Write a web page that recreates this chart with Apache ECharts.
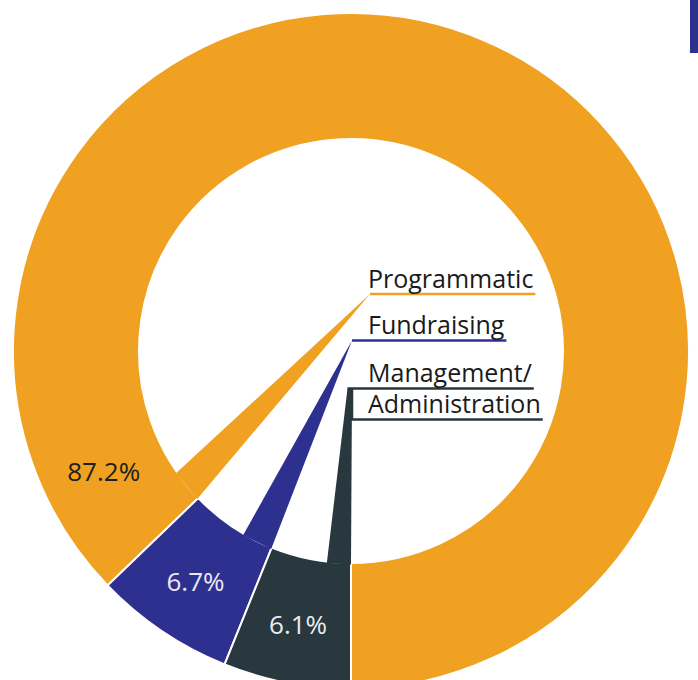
<!DOCTYPE html>
<html>
<head>
<meta charset="utf-8">
<script src="https://cdn.jsdelivr.net/npm/echarts@6/dist/echarts.min.js"></script>
<style>
html, body { margin: 0; padding: 0; background: #fff; }
#main { width: 698px; height: 680px; }
</style>
</head>
<body>
<div id="main"></div>
<script>
// share of total expenses, %
var categories = ['Programmatic', 'Fundraising', 'Management/\nAdministration'];
var shares = [87.2, 6.7, 6.1];

var sliceColors = ['#F1A121', '#2E3090', '#29373E'];
var pctColors = ['#1e1e1e', '#E9E9F3', '#E9EDEF'];

// ring geometry (px)
var CX = 351, CY = 351, R0 = 212, R1 = 338, START = 270;
// part of each slice's inner edge the leader wedge grows out of (deg)
var wedgeSpread = [9, 8.4, 6.5];
// x of the wedge tip (left, right)
var wedgeTips = [[370, 370], [352, 352], [347.5, 352]];
var textX = 368;
var textBase = [[290], [336.5], [384.5, 415.5]];
var FONT_FAMILY = '"Open Sans", sans-serif';
var NAME_SIZE = 25;
var PCT_SIZE = 26;

var total = shares.reduce(function (a, b) { return a + b; }, 0);
var ends = [];
var acc = START;
shares.forEach(function (v) { acc += v / total * 360; ends.push(acc); });

function pt(r, deg) {
  var a = deg * Math.PI / 180;
  return [CX + r * Math.cos(a), CY - r * Math.sin(a)];
}

var measure = document.createElement('canvas').getContext('2d');
measure.font = NAME_SIZE + 'px ' + FONT_FAMILY;

var graphics = [];
categories.forEach(function (name, i) {
  var col = sliceColors[i];
  var lines = name.split('\n');
  var ulY = textBase[i].map(function (b) { return b + 4; });
  var tip = wedgeTips[i];
  var a = pt(R0 + 1.5, ends[i] - wedgeSpread[i]);
  var b = pt(R0 + 1.5, ends[i]);
  graphics.push({
    type: 'polygon', z: 10,
    shape: { points: [a, b, [tip[1], ulY[0]], [tip[0], ulY[0]]] },
    style: { fill: col }
  });
  lines.forEach(function (s, j) {
    var w = measure.measureText(s).width;
    var pts;
    if (j === 0) {
      pts = [[tip[0], ulY[0]], [textX + w + 2, ulY[0]]];
    } else {
      pts = [[tip[1], ulY[j - 1]], [tip[1], ulY[j]], [textX + w + 2, ulY[j]]];
    }
    graphics.push({
      type: 'polyline', z: 10,
      shape: { points: pts },
      style: { stroke: col, lineWidth: 2.5, fill: null }
    });
    graphics.push({
      type: 'text', z: 10,
      x: textX, y: textBase[i][j],
      style: {
        text: s, fill: '#1a1a1a',
        fontSize: NAME_SIZE, fontFamily: FONT_FAMILY,
        verticalAlign: 'bottom'
      }
    });
  });
});
// cut-off marker at the top right edge
graphics.push({
  type: 'rect', z: 10,
  shape: { x: 690, y: 0, width: 8, height: 53 },
  style: { fill: sliceColors[1] }
});

var chart = echarts.init(document.getElementById('main'), null, { renderer: 'svg' });
chart.setOption({
  animation: false,
  graphic: graphics,
  series: [{
    type: 'pie',
    center: [CX, CY],
    radius: [R0, R1],
    startAngle: START,
    clockwise: false,
    avoidLabelOverlap: false,
    silent: true,
    itemStyle: { borderColor: '#fff', borderWidth: 2 },
    label: {
      show: true,
      position: 'inside',
      formatter: '{c}%',
      fontFamily: FONT_FAMILY,
      fontSize: PCT_SIZE
    },
    labelLine: { show: false },
    labelLayout: function (p) {
      if (p.dataIndex === 0) {
        var q = pt((R0 + R1) / 2, ends[0] - 18);
        return { x: q[0], y: q[1], align: 'center', verticalAlign: 'middle' };
      }
    },
    data: categories.map(function (c, i) {
      return {
        name: c,
        value: shares[i],
        itemStyle: { color: sliceColors[i] },
        label: { color: pctColors[i] }
      };
    })
  }]
});
</script>
</body>
</html>
